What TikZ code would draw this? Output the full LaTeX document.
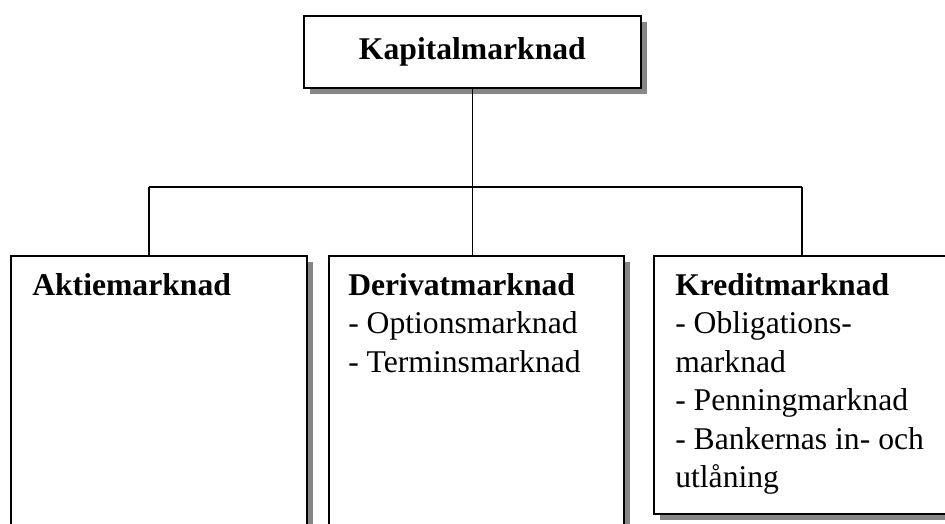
\documentclass[tikz,border=0pt]{standalone}
\usepackage{fontspec}
\setmainfont{Liberation Serif}
\usetikzlibrary{shadows}
\begin{document}
\begin{tikzpicture}[x=0.025cm, y=-0.025cm,
  every node/.style={font=\fontsize{22.5}{27.4}\selectfont},
  marketbox/.style={draw, line width=1.2pt, fill=white, inner sep=0pt, anchor=north west,
    drop shadow={shadow xshift=0.16cm, shadow yshift=-0.16cm, fill=gray!95, opacity=1}},
  boxtext/.style={anchor=north west, align=left, inner sep=0pt},
  link/.style={line width=1pt}]
  \useasboundingbox (0,0) rectangle (945,524);
  \clip (0,0) rectangle (945,524);
  % top
  \node[marketbox, minimum width=8.425cm, minimum height=1.8cm] (kap) at (303,15) {};
  \node[font=\fontsize{22.5}{27.4}\selectfont\bfseries] (kaptxt) at (kap.center) {Kapitalmarknad};
  % markets
  \node[marketbox, minimum width=7.4cm, minimum height=8cm] (akt) at (10,255) {};
  \node[marketbox, minimum width=7.375cm, minimum height=8cm] (der) at (328,255) {};
  \node[marketbox, minimum width=8cm, minimum height=6.45cm] (kre) at (653,255) {};
  \node[boxtext] (akttxt) at (32,273) {\textbf{Aktiemarknad}};
  \node[boxtext] (dertxt) at (348,273) {\textbf{Derivatmarknad}\\- Optionsmarknad\\- Terminsmarknad};
  \node[boxtext] (kretxt) at (675,273) {\textbf{Kreditmarknad}\\- Obligations-\\marknad\\- Penningmarknad\\- Bankernas in- och\\utlåning};
  % connectors
  \coordinate (busL) at (149,187);
  \coordinate (busR) at (802,187);
  \draw[link] (kap.south) -- (kap.south |- busL);
  \draw[link] (busL) -- (busR);
  \draw[link] (busL) -- (busL |- akt.north);
  \draw[link] (kap.south |- busL) -- (kap.south |- der.north);
  \draw[link] (busR) -- (busR |- kre.north);
\end{tikzpicture}
\end{document}
